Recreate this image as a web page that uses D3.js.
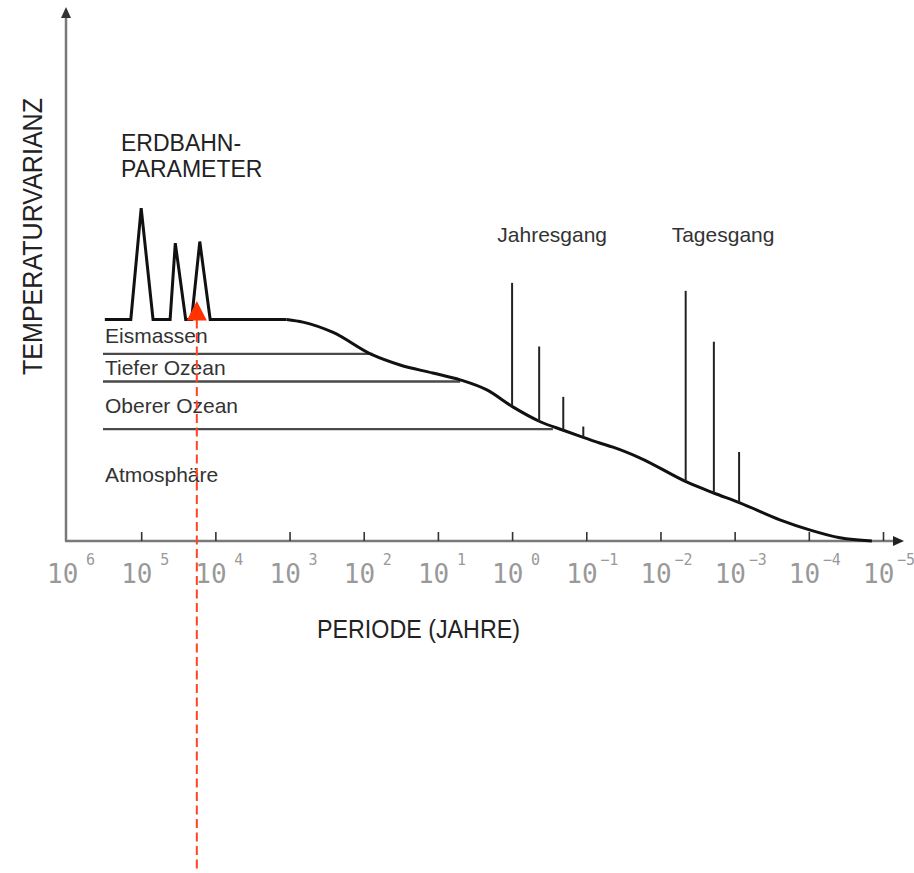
<!DOCTYPE html>
<html>
<head>
<meta charset="utf-8">
<script src="https://cdn.jsdelivr.net/npm/d3@7"></script>
<style>
  body { margin: 0; background: #fff; }
  text { font-family: "Liberation Sans", Arial, sans-serif; }
</style>
</head>
<body>
<div id="chart"></div>
<script>
// decades of the period axis (exponent of 10, years)
const decades = [6, 5, 4, 3, 2, 1, 0, -1, -2, -3, -4, -5];

// orbital parameter peaks (log10 period, variance in arbitrary units)
const orbitalLogP = [5.49, 5.14, 5.00, 4.84, 4.61, 4.54, 4.40, 4.32, 4.21, 4.07, 3.04];
const orbitalVar  = [41.8, 41.8, 62.8, 41.8, 41.8, 56.2, 41.8, 41.8, 56.5, 41.8, 41.8];

// continuous background spectrum
const continuumLogP = [3.04, 2.82, 2.42, 1.88, 1.51, 1.07, 0.70, 0.34, -0.01, -0.38, -0.69, -0.95,
                       -1.18, -1.36, -1.72, -2.36, -2.71, -3.07, -3.61, -4.01, -4.42, -4.85];
const continuumVar  = [41.8, 41.3, 39.4, 35.1, 33.2, 31.7, 30.4, 28.5, 25.3, 22.5, 20.9, 19.6,
                       18.5, 17.7, 15.7, 11.1, 9.1, 7.2, 4.0, 2.1, 0.6, 0];

// climate subsystems
const layerNames   = ["Eismassen", "Tiefer Ozean", "Oberer Ozean", "Atmosphäre"];
const layerLabelVar = [37.4, 31.3, 24.2, 11.1];
const layerLineVar = [35.3, 30.1, 21.1];
const layerLineEnd = [1.88, 0.70, -0.55];
const layerLineStart = 5.515;

// annual and daily cycle spikes
const annualLogP = [0.0, -0.365, -0.69, -0.96];
const annualPeak = [48.7, 36.7, 27.2, 21.6];
const dailyLogP  = [-2.34, -2.72, -3.06];
const dailyPeak  = [47.2, 37.6, 16.8];

// red marker
const markerLogP = 4.25;
const markerVar = 45.3;

const width = 914, height = 873;

const x = d3.scaleLinear().domain([6, -5]).range([67, 883]);
const y = d3.scaleLinear().domain([0, 100]).range([541, 11]);
const baseAt = d3.scaleLinear().domain(continuumLogP).range(continuumVar);

const svg = d3.select("#chart")
    .append("svg")
    .attr("width", width)
    .attr("height", height);

svg.append("rect").attr("width", width).attr("height", height).attr("fill", "#fff");

// axes with arrows
const axisColor = "#7a7a7a";
svg.append("line")
    .attr("x1", x(6) - 1).attr("y1", y(0))
    .attr("x2", x(6) - 1).attr("y2", 14)
    .attr("stroke", axisColor).attr("stroke-width", 2.5);
svg.append("path")
    .attr("d", `M${x(6) - 1},7 L${x(6) - 6},18 L${x(6) + 4},18 Z`)
    .attr("fill", "#333");
svg.append("line")
    .attr("x1", x(6) - 2).attr("y1", y(0))
    .attr("x2", 896).attr("y2", y(0))
    .attr("stroke", axisColor).attr("stroke-width", 2.5);
svg.append("path")
    .attr("d", `M904,${y(0)} L893,${y(0) - 5} L893,${y(0) + 5} Z`)
    .attr("fill", "#222");

const xAxis = d3.axisBottom(x)
    .tickValues(decades.slice(1))
    .tickSize(-9)
    .tickFormat("");
const gx = svg.append("g")
    .attr("transform", `translate(0, ${y(0)})`)
    .call(xAxis);
gx.select(".domain").remove();
gx.selectAll(".tick line").attr("stroke", "#333").attr("stroke-width", 1.6);

// tick labels 10^n
const labels = svg.append("g")
    .selectAll("g")
    .data(decades)
    .enter()
    .append("g")
    .attr("transform", d => `translate(${x(d)}, 0)`);
labels.append("text")
    .attr("x", -20)
    .attr("y", 583)
    .attr("fill", "#999")
    .style("font-family", "'DejaVu Sans Mono', monospace")
    .style("font-size", "26px")
    .text("10");
labels.append("text")
    .attr("x", d => d < 0 ? 14 : 19)
    .attr("y", 565)
    .attr("fill", "#999")
    .style("font-family", "'DejaVu Sans Mono', monospace")
    .style("font-size", "15px")
    .text(d => d < 0 ? "\u2212" + (-d) : d);

// axis titles
svg.append("text")
    .attr("x", 317)
    .attr("y", 638)
    .attr("fill", "#222")
    .attr("textLength", 203)
    .attr("lengthAdjust", "spacingAndGlyphs")
    .style("font-size", "26px")
    .text("PERIODE (JAHRE)");

svg.append("text")
    .attr("transform", "translate(42, 375) rotate(-90)")
    .attr("fill", "#222")
    .attr("textLength", 277)
    .attr("lengthAdjust", "spacingAndGlyphs")
    .style("font-size", "27px")
    .text("TEMPERATURVARIANZ");

// subsystem boundary lines
svg.append("g")
    .selectAll("line")
    .data(layerLineVar)
    .enter()
    .append("line")
    .attr("x1", x(layerLineStart))
    .attr("x2", (d, i) => x(layerLineEnd[i]))
    .attr("y1", d => y(d))
    .attr("y2", d => y(d))
    .attr("stroke", "#4a4a4a")
    .attr("stroke-width", 2.4);

svg.append("g")
    .selectAll("text")
    .data(layerNames)
    .enter()
    .append("text")
    .attr("x", x(layerLineStart) + 2)
    .attr("y", (d, i) => y(layerLabelVar[i]))
    .attr("fill", "#333")
    .style("font-size", "21px")
    .text(d => d);

// spectrum
const line = d3.line()
    .x(d => x(d[0]))
    .y(d => y(d[1]));

svg.append("path")
    .datum(d3.zip(orbitalLogP, orbitalVar))
    .attr("d", line.curve(d3.curveLinear))
    .attr("fill", "none")
    .attr("stroke", "#111")
    .attr("stroke-width", 3)
    .attr("stroke-linejoin", "miter");

svg.append("path")
    .datum(d3.zip(continuumLogP, continuumVar))
    .attr("d", line.curve(d3.curveMonotoneX))
    .attr("fill", "none")
    .attr("stroke", "#111")
    .attr("stroke-width", 3);

// spikes
const spikes = d3.zip(annualLogP.concat(dailyLogP), annualPeak.concat(dailyPeak));
svg.append("g")
    .selectAll("line")
    .data(spikes)
    .enter()
    .append("line")
    .attr("x1", d => x(d[0]))
    .attr("x2", d => x(d[0]))
    .attr("y1", d => y(d[1]))
    .attr("y2", d => y(baseAt(d[0])))
    .attr("stroke", "#222")
    .attr("stroke-width", 2);

svg.append("text")
    .attr("x", x(d3.min(annualLogP)) - 86)
    .attr("y", 242)
    .attr("fill", "#333")
    .style("font-size", "21px")
    .text("Jahresgang");
svg.append("text")
    .attr("x", x(d3.max(dailyLogP)) - 14)
    .attr("y", 242)
    .attr("fill", "#333")
    .style("font-size", "21px")
    .text("Tagesgang");

// orbital label
const orb = svg.append("text")
    .attr("x", 121)
    .attr("y", 151)
    .attr("fill", "#222")
    .style("font-size", "23px");
orb.append("tspan").text("ERDBAHN-");
orb.append("tspan").attr("x", 121).attr("dy", 26).text("PARAMETER");

// red marker with dashed line
const mx = x(markerLogP);
svg.append("line")
    .attr("x1", mx).attr("x2", mx)
    .attr("y1", y(41.8))
    .attr("y2", height)
    .attr("stroke", "#ff4422")
    .attr("stroke-width", 2)
    .attr("stroke-dasharray", "9,4.5");
svg.append("path")
    .attr("d", `M${mx},${y(markerVar)} L${mx - 10},${y(41.8) + 1} L${mx + 10},${y(41.8) + 1} Z`)
    .attr("fill", "#ff3300");
</script>
</body>
</html>
